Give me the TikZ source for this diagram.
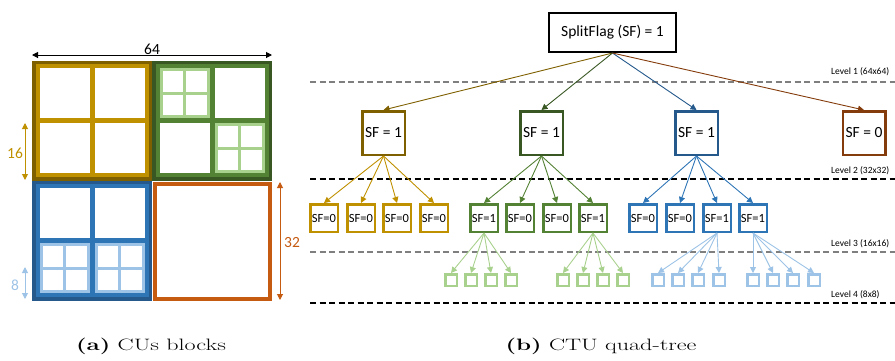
\documentclass[tikz,border=0pt]{standalone}
\usepackage{fontspec}
\newfontfamily\calibri{Carlito}
\usetikzlibrary{arrows.meta}
\definecolor{golddark}{HTML}{7F6000}
\definecolor{gold}{HTML}{BF9000}
\definecolor{greendark}{HTML}{385723}
\definecolor{green}{HTML}{548235}
\definecolor{greenlight}{HTML}{A9D18E}
\definecolor{bluedark}{HTML}{25598C}
\definecolor{blue}{HTML}{2E75B6}
\definecolor{bluelight}{HTML}{9DC3E6}
\definecolor{brown}{HTML}{843C0C}
\definecolor{orange}{HTML}{C55A11}
\definecolor{levelgray}{HTML}{7F7F7F}
\begin{document}
\begin{tikzpicture}[x=1pt,y=-1pt,
				cuedge/.style={line width=3.5pt},
				cuinner/.style={line width=4pt},
				cucross/.style={line width=5pt},
				cusmall/.style={line width=3pt},
				dim/.style={{Triangle[length=6pt,width=6pt]}-{Triangle[length=6pt,width=6pt]}, line width=1pt},
				dimlabel/.style={font=\calibri\fontsize{15.5}{18}\selectfont, inner sep=0pt},
				rootbox/.style={rectangle, draw=black, line width=2pt, minimum width=127pt, minimum height=39pt, font=\calibri\fontsize{15.5}{18}\selectfont},
				sfbox/.style={rectangle, draw, line width=2.5pt, minimum width=42.5pt, minimum height=43.5pt, inner sep=0pt, font=\calibri\fontsize{15.5}{18}\selectfont},
				leafbox/.style={rectangle, draw, line width=2.5pt, minimum size=27.5pt, inner sep=0pt, font=\calibri\fontsize{12.5}{14}\selectfont},
				tinybox/.style={rectangle, draw, line width=2.5pt, minimum size=11.5pt, inner sep=0pt},
				link/.style={-{Triangle[length=6pt,width=6pt]}, line width=0.9pt},
				levelline/.style={line width=1.3pt, dash pattern=on 6pt off 3.5pt},
				levellabel/.style={anchor=west, inner sep=0pt, font=\calibri\fontsize{9.5}{11}\selectfont},
				caption/.style={font=\fontsize{16.5}{19}\selectfont, inner sep=0pt}
				]
				\useasboundingbox (0,0) rectangle (895,360);
				% (a) CUs blocks
				\draw[gold, cuinner] (37.5,66) rectangle (146.5,175);
				\draw[gold, cucross] (92,66) -- (92,175) (37.5,120.5) -- (146.5,120.5);
				\draw[golddark, cuedge] (33.75,62.25) rectangle (150.25,178.75);
				\draw[green, cuinner] (157.5,66) rectangle (266.5,175);
				\draw[green, cucross] (212,66) -- (212,175) (157.5,120.5) -- (266.5,120.5);
				\draw[greendark, cuedge] (153.75,62.25) rectangle (270.25,178.75);
				\draw[greenlight, cusmall] (161,69.5) rectangle (208,116.5) (184.5,69.5) -- (184.5,116.5) (161,93) -- (208,93);
				\draw[greenlight, cusmall] (216,124.5) rectangle (263,171.5) (239.5,124.5) -- (239.5,171.5) (216,148) -- (263,148);
				\draw[blue, cuinner] (37.5,186) rectangle (146.5,295);
				\draw[blue, cucross] (92,186) -- (92,295) (37.5,240.5) -- (146.5,240.5);
				\draw[bluedark, cuedge] (33.75,182.25) rectangle (150.25,298.75);
				\draw[bluelight, cusmall] (41,244.5) rectangle (88,291.5) (64.5,244.5) -- (64.5,291.5) (41,268) -- (88,268);
				\draw[bluelight, cusmall] (96,244.5) rectangle (143,291.5) (119.5,244.5) -- (119.5,291.5) (96,268) -- (143,268);
				\draw[orange, line width=4pt] (155,184) rectangle (270,298.5);
				\coordinate (w64a) at (32,55);
				\coordinate (w64b) at (272,55);
				\draw[dim, black] (w64a) -- (w64b) node[dimlabel, midway, above=0pt] {64};
				\coordinate (h16a) at (25,123);
				\coordinate (h16b) at (25,180);
				\draw[dim, gold] (h16a) -- (h16b);
				\node[dimlabel, text=gold] (l16) at (15,153) {16};
				\coordinate (h8a) at (25,267);
				\coordinate (h8b) at (25,299);
				\draw[dim, bluelight] (h8a) -- (h8b);
				\node[dimlabel, text=bluelight] (l8) at (15,285) {8};
				\coordinate (h32a) at (280,182);
				\coordinate (h32b) at (280,300);
				\draw[dim, orange] (h32a) -- (h32b);
				\node[dimlabel, text=orange] (l32) at (292,243) {32};
				\node[caption] (capa) at (151,346) {\scalebox{1.46}[1]{\textbf{(a)} CUs blocks}};
				% (b) CTU quad-tree
				\draw[levelgray, levelline] (310,82) -- (895,82);
				\draw[black, levelline] (310,179) -- (895,179);
				\draw[levelgray, levelline] (310,252) -- (895,252);
				\draw[black, levelline] (310,303) -- (895,303);
				\node[levellabel] (lev1) at (831,72) {Level 1 (64x64)};
				\node[levellabel] (lev2) at (831,171) {Level 2 (32x32)};
				\node[levellabel] (lev3) at (831,244) {Level 3 (16x16)};
				\node[levellabel] (lev4) at (831,295) {Level 4 (8x8)};
				\node[rootbox] (root) at (612.5,32.5) {SplitFlag (SF) = 1};
				\node[sfbox, draw=golddark] (a) at (383.5,133) {SF = 1};
				\node[sfbox, draw=greendark] (b) at (541.5,133) {SF = 1};
				\node[sfbox, draw=bluedark] (c) at (696.5,133) {SF = 1};
				\node[sfbox, draw=brown] (d) at (864,133) {SF = 0};
				\draw[link, golddark] (root.south) -- (a.north);
				\draw[link, greendark] (root.south) -- (b.north);
				\draw[link, bluedark] (root.south) -- (c.north);
				\draw[link, brown] (root.south) -- (d.north);
				\node[leafbox, draw=gold] (a1) at (324,218) {SF=0};
				\node[leafbox, draw=gold] (a2) at (361,218) {SF=0};
				\node[leafbox, draw=gold] (a3) at (397,218) {SF=0};
				\node[leafbox, draw=gold] (a4) at (434,218) {SF=0};
				\node[leafbox, draw=green] (b1) at (484,218) {SF=1};
				\node[leafbox, draw=green] (b2) at (520,218) {SF=0};
				\node[leafbox, draw=green] (b3) at (557,218) {SF=0};
				\node[leafbox, draw=green] (b4) at (593,218) {SF=1};
				\node[leafbox, draw=blue] (c1) at (643,218) {SF=0};
				\node[leafbox, draw=blue] (c2) at (680,218) {SF=0};
				\node[leafbox, draw=blue] (c3) at (717,218) {SF=1};
				\node[leafbox, draw=blue] (c4) at (753,218) {SF=1};
				\draw[link, gold] (a.south) -- (a1.north);
				\draw[link, gold] (a.south) -- (a2.north);
				\draw[link, gold] (a.south) -- (a3.north);
				\draw[link, gold] (a.south) -- (a4.north);
				\draw[link, green] (b.south) -- (b1.north);
				\draw[link, green] (b.south) -- (b2.north);
				\draw[link, green] (b.south) -- (b3.north);
				\draw[link, green] (b.south) -- (b4.north);
				\draw[link, blue] (c.south) -- (c1.north);
				\draw[link, blue] (c.south) -- (c2.north);
				\draw[link, blue] (c.south) -- (c3.north);
				\draw[link, blue] (c.south) -- (c4.north);
				\node[tinybox, draw=greenlight] (b1a) at (451,280) {};
				\node[tinybox, draw=greenlight] (b1b) at (471,280) {};
				\node[tinybox, draw=greenlight] (b1c) at (491,280) {};
				\node[tinybox, draw=greenlight] (b1d) at (511,280) {};
				\node[tinybox, draw=greenlight] (b4a) at (563,280) {};
				\node[tinybox, draw=greenlight] (b4b) at (583,280) {};
				\node[tinybox, draw=greenlight] (b4c) at (603,280) {};
				\node[tinybox, draw=greenlight] (b4d) at (623,280) {};
				\node[tinybox, draw=bluelight] (c3a) at (658,280) {};
				\node[tinybox, draw=bluelight] (c3b) at (678,280) {};
				\node[tinybox, draw=bluelight] (c3c) at (698,280) {};
				\node[tinybox, draw=bluelight] (c3d) at (719,280) {};
				\node[tinybox, draw=bluelight] (c4a) at (753,280) {};
				\node[tinybox, draw=bluelight] (c4b) at (773,280) {};
				\node[tinybox, draw=bluelight] (c4c) at (793,280) {};
				\node[tinybox, draw=bluelight] (c4d) at (814,280) {};
				\draw[link, greenlight] (b1.south) -- (b1a.north);
				\draw[link, greenlight] (b1.south) -- (b1b.north);
				\draw[link, greenlight] (b1.south) -- (b1c.north);
				\draw[link, greenlight] (b1.south) -- (b1d.north);
				\draw[link, greenlight] (b4.south) -- (b4a.north);
				\draw[link, greenlight] (b4.south) -- (b4b.north);
				\draw[link, greenlight] (b4.south) -- (b4c.north);
				\draw[link, greenlight] (b4.south) -- (b4d.north);
				\draw[link, bluelight] (c3.south) -- (c3a.north);
				\draw[link, bluelight] (c3.south) -- (c3b.north);
				\draw[link, bluelight] (c3.south) -- (c3c.north);
				\draw[link, bluelight] (c3.south) -- (c3d.north);
				\draw[link, bluelight] (c4.south) -- (c4a.north);
				\draw[link, bluelight] (c4.south) -- (c4b.north);
				\draw[link, bluelight] (c4.south) -- (c4c.north);
				\draw[link, bluelight] (c4.south) -- (c4d.north);
				\node[caption] (capb) at (601,346) {\scalebox{1.46}[1]{\textbf{(b)} CTU quad-tree}};
			\end{tikzpicture}
\end{document}
